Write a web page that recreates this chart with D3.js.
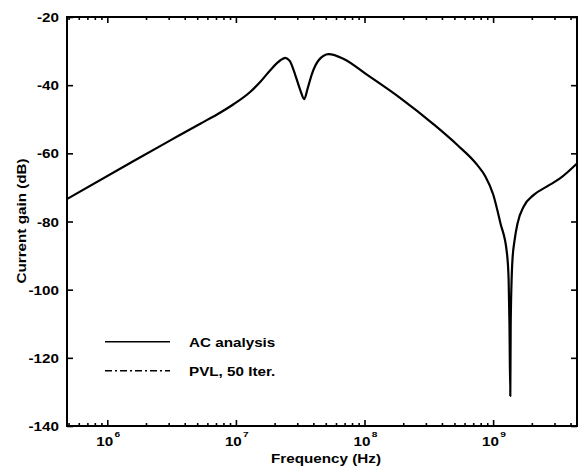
<!DOCTYPE html>
<html>
<head>
<meta charset="utf-8">
<script src="https://cdn.jsdelivr.net/npm/d3@7"></script>
<style>
  body { margin: 0; background: #fff; }
  svg text { font-family: "Liberation Sans", Arial, sans-serif; font-weight: bold; fill: #000; }
  .axis path { display: none; }
  .axis line { stroke: #000; stroke-width: 1.6; }
</style>
</head>
<body>
<svg id="chart" width="581" height="468"></svg>
<script>
"use strict";

// frequency (Hz)
const freq = [4.86e5, 1.59e6, 3.09e6, 5.28e6, 7.13e6, 9.59e6, 1.29e7, 1.55e7, 1.85e7, 2.22e7,
    2.42e7, 2.62e7, 2.90e7, 3.17e7, 3.40e7, 3.61e7, 3.91e7, 4.40e7, 5.26e7, 6.89e7,
    1.05e8, 1.90e8, 3.45e8, 5.25e8, 7.52e8, 8.71e8, 1.00e9, 1.14e9, 1.28e9, 1.32e9,
    1.34e9, 1.36e9, 1.37e9, 1.41e9, 1.47e9, 1.55e9, 1.73e9, 2.07e9, 2.63e9, 3.33e9,
    4.49e9];
// current gain (dB), AC analysis
const acGain = [-73.4, -62.3, -56.2, -51.3, -48.6, -45.6, -42.0, -39.0, -35.6, -32.7,
    -32.0, -32.9, -37.1, -41.5, -44.1, -41.0, -36.6, -32.7, -30.9, -32.3,
    -37.0, -43.8, -51.5, -57.5, -63.4, -66.8, -72.0, -80.5, -89.2, -97.0,
    -110.0, -131.2, -110.0, -92.0, -85.4, -80.5, -75.6, -72.2, -69.7, -67.3,
    -63.0];
const yTicks = [-140, -120, -100, -80, -60, -40, -20];
const xMajor = [1e6, 1e7, 1e8, 1e9];
const legendNames = ["AC analysis", "PVL, 50 Iter."];

const margin = {top: 17, right: 4, bottom: 42, left: 67};
const width = 581 - margin.left - margin.right,
      height = 468 - margin.top - margin.bottom;
const stretch = 1.27; // the scanned lettering is wide

const xScale = d3.scaleLog()
    .domain([4.86e5, 4.49e9])
    .range([0, width]);

const yScale = d3.scaleLinear()
    .domain([-140, -20])
    .range([height, 0]);

const svg = d3.select("#chart");
const g = svg.append("g")
    .attr("transform", "translate(" + margin.left + "," + margin.top + ")");

// wide text helper
function wideText(sel, x, y, size, str, anchor, rot) {
    return sel.append("text")
        .attr("transform", "translate(" + x + "," + y + ")" + (rot ? " rotate(" + rot + ")" : "") +
            " scale(" + stretch + ",1)")
        .attr("text-anchor", anchor || "start")
        .style("font-size", size + "px")
        .text(str);
}

// minor ticks 2..9 in each decade
const xMinor = [];
for (let e = 5; e <= 9; e++) {
    for (let m = 2; m <= 9; m++) {
        const v = m * Math.pow(10, e);
        if (v > xScale.domain()[0] && v < xScale.domain()[1]) xMinor.push(v);
    }
}

// bottom and top ticks (pointing inward)
g.append("g").attr("class", "axis")
    .attr("transform", "translate(0," + height + ")")
    .call(d3.axisBottom(xScale).tickValues(xMinor).tickSize(-3).tickFormat(""));
g.append("g").attr("class", "axis")
    .attr("transform", "translate(0," + height + ")")
    .call(d3.axisBottom(xScale).tickValues(xMajor).tickSize(-6).tickFormat(""));
g.append("g").attr("class", "axis")
    .call(d3.axisTop(xScale).tickValues(xMinor).tickSize(-3).tickFormat(""));
g.append("g").attr("class", "axis")
    .call(d3.axisTop(xScale).tickValues(xMajor).tickSize(-6).tickFormat(""));

// left and right ticks
g.append("g").attr("class", "axis")
    .call(d3.axisLeft(yScale).tickValues(yTicks).tickSize(-6).tickFormat(""));
g.append("g").attr("class", "axis")
    .attr("transform", "translate(" + width + ",0)")
    .call(d3.axisRight(yScale).tickValues(yTicks).tickSize(-6).tickFormat(""));

// y tick labels
yTicks.forEach(d => {
    wideText(g, -8, yScale(d) + 5, 12, String(d), "end");
});

// x tick labels as 10^n
xMajor.forEach(d => {
    const t = g.append("text")
        .attr("transform", "translate(" + (xScale(d) - 11) + "," + (height + 20) + ") scale(" + stretch + ",1)")
        .style("font-size", "12px");
    t.append("tspan").text("10");
    t.append("tspan")
        .attr("dy", -9)
        .attr("dx", 1)
        .style("font-size", "8px")
        .text(Math.round(Math.log10(d)));
});

// frame
g.append("rect")
    .attr("width", width)
    .attr("height", height)
    .attr("fill", "none")
    .attr("stroke", "#000")
    .attr("stroke-width", 2);

// curve
const dataset = freq.map((f, i) => ({f: f, y: acGain[i]}));
const line = d3.line()
    .x(d => xScale(d.f))
    .y(d => yScale(d.y))
    .curve(d3.curveMonotoneX);

g.append("path")
    .datum(dataset)
    .attr("fill", "none")
    .attr("stroke", "#000")
    .attr("stroke-width", 2.2)
    .attr("stroke-linejoin", "round")
    .attr("d", line);

// legend
const legend = g.append("g")
    .attr("transform", "translate(38," + (yScale(-115) + 1) + ")");
const dashes = [null, "7,3,2,3"];
legendNames.forEach((name, i) => {
    legend.append("line")
        .attr("x1", 0).attr("x2", 65)
        .attr("y1", i * 29).attr("y2", i * 29)
        .attr("stroke", "#000")
        .attr("stroke-width", 1.6)
        .attr("stroke-dasharray", dashes[i]);
    wideText(legend, 84, i * 29 + 5, 12, name);
});

// axis titles
wideText(svg, margin.left + width / 2 + 4, 463, 12, "Frequency (Hz)", "middle");
wideText(svg, 26, 221, 12, "Current gain (dB)", "middle", -90);
</script>
</body>
</html>
